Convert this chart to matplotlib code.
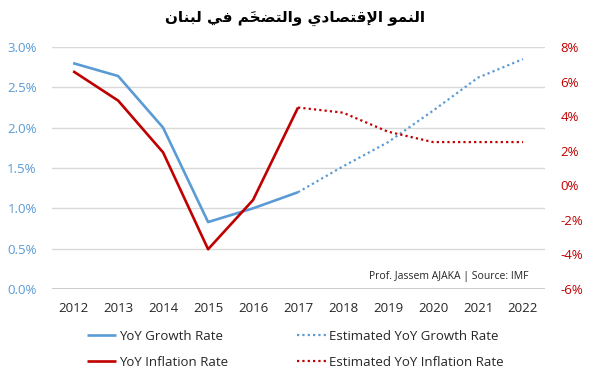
from matplotlib import pyplot as plt

plt.rcParams['font.family'] = ['Open Sans', 'DejaVu Sans']

# data
years_actual = [2012, 2013, 2014, 2015, 2016, 2017]
years_est = [2017, 2018, 2019, 2020, 2021, 2022]
growth_actual = [2.80, 2.64, 2.00, 0.83, 1.00, 1.20]
growth_est = [1.20, 1.52, 1.82, 2.21, 2.62, 2.85]
infl_actual = [6.6, 4.9, 1.9, -3.7, -0.85, 4.5]
infl_est = [4.5, 4.2, 3.1, 2.5, 2.5, 2.5]
x_ticks = list(range(2012, 2023))
left_ticks = [0.0, 0.5, 1.0, 1.5, 2.0, 2.5, 3.0]
right_ticks = [-6, -4, -2, 0, 2, 4, 6, 8]

title = 'النمو الإقتصادي والتضخمَ في لبنان'
source = 'Prof. Jassem AJAKA | Source: IMF'

BLUE = '#5B9BD5'
RED = '#C00000'

# --- minimal arabic shaping (matplotlib has no text shaping) ---
FORMS = {
    'ا': ('\ufe8d', '\ufe8e', None, None),
    'إ': ('\ufe87', '\ufe88', None, None),
    'ب': ('\ufe8f', '\ufe90', '\ufe91', '\ufe92'),
    'ت': ('\ufe95', '\ufe96', '\ufe97', '\ufe98'),
    'خ': ('\ufea5', '\ufea6', '\ufea7', '\ufea8'),
    'د': ('\ufea9', '\ufeaa', None, None),
    'ص': ('\ufeb9', '\ufeba', '\ufebb', '\ufebc'),
    'ض': ('\ufebd', '\ufebe', '\ufebf', '\ufec0'),
    'ف': ('\ufed1', '\ufed2', '\ufed3', '\ufed4'),
    'ق': ('\ufed5', '\ufed6', '\ufed7', '\ufed8'),
    'ل': ('\ufedd', '\ufede', '\ufedf', '\ufee0'),
    'م': ('\ufee1', '\ufee2', '\ufee3', '\ufee4'),
    'ن': ('\ufee5', '\ufee6', '\ufee7', '\ufee8'),
    'و': ('\ufeed', '\ufeee', None, None),
    'ي': ('\ufef1', '\ufef2', '\ufef3', '\ufef4'),
}
LAM_ALEF = {'ا': ('\ufefb', '\ufefc'), 'إ': ('\ufef9', '\ufefa')}
MARKS = {'\u064e'}


def shape_arabic(text):
    units = []
    for ch in text:
        if ch in MARKS and units:
            units[-1][1].append(ch)
        else:
            units.append([ch, []])
    merged = []
    i = 0
    while i < len(units):
        b, m = units[i]
        if b == 'ل' and not m and i + 1 < len(units) and units[i + 1][0] in LAM_ALEF:
            merged.append(['LA' + units[i + 1][0], units[i + 1][1]])
            i += 2
        else:
            merged.append([b, m])
            i += 1

    def joins_next(b):
        return b in FORMS and FORMS[b][2] is not None

    def is_letter(b):
        return b.startswith('LA') or b in FORMS

    out = []
    for k, (b, m) in enumerate(merged):
        prev = merged[k - 1][0] if k > 0 else None
        nxt = merged[k + 1][0] if k + 1 < len(merged) else None
        jp = prev is not None and joins_next(prev) and is_letter(b)
        if b.startswith('LA'):
            g = LAM_ALEF[b[2]][1 if jp else 0]
        elif b in FORMS:
            iso, fin, ini, med = FORMS[b]
            jn = ini is not None and nxt is not None and is_letter(nxt)
            if jp and jn:
                g = med
            elif jp:
                g = fin
            elif jn:
                g = ini
            else:
                g = iso
        else:
            g = b
        out.append(g + ''.join(m))
    return ''.join(reversed(out))


fig = plt.figure(figsize=(5.9, 3.79), dpi=100)
ax = fig.add_axes([52 / 590, 1 - 289 / 379, 493 / 590, 242 / 379])
ax2 = ax.twinx()

l1, = ax.plot(years_actual, growth_actual, color=BLUE, lw=1.9,
              solid_capstyle='butt', label='YoY Growth Rate')
l2, = ax.plot(years_est, growth_est, color=BLUE, lw=1.6, dashes=(1, 1.4),
              dash_capstyle='butt', label='Estimated YoY Growth Rate')
l3, = ax2.plot(years_actual, infl_actual, color=RED, lw=1.9,
               solid_capstyle='butt', label='YoY Inflation Rate')
l4, = ax2.plot(years_est, infl_est, color=RED, lw=1.6, dashes=(1, 1.4),
               dash_capstyle='butt', label='Estimated YoY Inflation Rate')

ax.set_xlim(2011.53, 2022.49)
ax.set_ylim(0, 3.0)
ax2.set_ylim(-6, 8)
ax.set_xticks(x_ticks)
ax.set_yticks(left_ticks)
ax.set_yticklabels(['%.1f%%' % v for v in left_ticks])
ax2.set_yticks(right_ticks)
ax2.set_yticklabels(['%d%%' % v for v in right_ticks])

ax.grid(axis='y', color='#D9D9D9', lw=1)
ax.set_axisbelow(True)
for a in (ax, ax2):
    for s in a.spines.values():
        s.set_visible(False)
ax.axhline(0, color='#BFBFBF', lw=1.2, zorder=0.5)

ax.tick_params(axis='both', length=0)
ax.tick_params(axis='x', labelsize=9.5, colors='#262626', pad=9)
ax.tick_params(axis='y', labelsize=9.5, colors=BLUE, pad=11)
ax2.tick_params(axis='y', length=0, labelsize=9.5, colors=RED, pad=11)

ax.text(0.9675, 0.05, source, transform=ax.transAxes, ha='right', va='center',
        fontsize=7.5, color='#262626')

fig.text(0.5, 0.952, shape_arabic(title), ha='center', va='center',
         fontsize=11, fontweight='bold', family=['DejaVu Sans'])

fig.legend([l1, l3, l2, l4],
           ['YoY Growth Rate', 'YoY Inflation Rate',
            'Estimated YoY Growth Rate', 'Estimated YoY Inflation Rate'],
           ncol=2, loc='upper left', bbox_to_anchor=(87 / 590, 1 - 330 / 379),
           frameon=False, fontsize=9.5, handlelength=2.2, handletextpad=0.25,
           columnspacing=5.2, labelspacing=0.95, borderpad=0, borderaxespad=0,
           labelcolor='#262626')

fig.savefig('out.png', dpi=100)
